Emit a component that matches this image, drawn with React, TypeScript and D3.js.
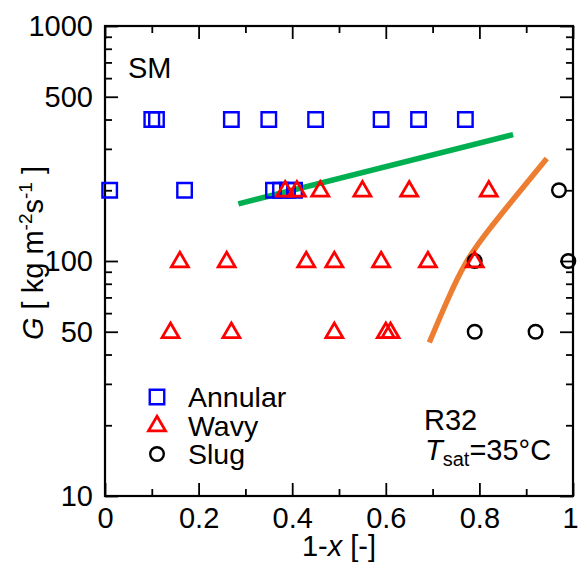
import React, { useEffect, useRef } from 'react';
import * as d3 from 'd3';

// flow regime observations, 1-x vs G
const annular400 = [0.10, 0.11, 0.27, 0.35, 0.45, 0.59, 0.67, 0.77];
const annular200 = [0.01, 0.17, 0.36, 0.375, 0.39, 0.405];
const wavy200 = [0.385, 0.41, 0.46, 0.55, 0.65, 0.82];
const wavy100 = [0.16, 0.26, 0.43, 0.49, 0.59, 0.69, 0.79];
const wavy50 = [0.14, 0.27, 0.49, 0.60, 0.61];
const slug200 = [0.97];
const slug100 = [0.79, 0.99];
const slug50 = [0.79, 0.92];

// transition lines [1-x, G]
const greenLine = [[0.285, 175], [0.872, 345]];
const orangeLine = [[0.693, 45], [0.731, 68], [0.769, 99], [0.816, 133], [0.878, 189], [0.944, 273]];

const xMajor = [0, 0.2, 0.4, 0.6, 0.8, 1];
const xMinor = [0.1, 0.3, 0.5, 0.7, 0.9];
const yMajor = [10, 50, 100, 500, 1000];
const yMinor = [20, 30, 40, 60, 70, 80, 90, 200, 300, 400, 600, 700, 800, 900];
const legendLabels = ['Annular', 'Wavy', 'Slug'];

const FONT = 'Liberation Sans, Arial, sans-serif';
const FS = 29;

const App = () => {
    const svgRef = useRef(null);

    useEffect(() => {
        const svg = d3.select(svgRef.current);
        svg.selectAll('*').remove();

        const left = 105, top = 26, right = 573, bottom = 496;
        const x = d3.scaleLinear().domain([0, 1]).range([left, right]);
        const y = d3.scaleLog().domain([10, 1000]).range([bottom, top]);

        const fmtX = (d) => (d === 0 || d === 1 ? String(d) : d.toFixed(1));

        // bottom axis, ticks inward
        svg.append('g').attr('class', 'xb').attr('transform', `translate(0,${bottom})`)
            .call(d3.axisBottom(x).tickValues(xMajor).tickSizeInner(-13).tickSizeOuter(0).tickPadding(11).tickFormat(fmtX));
        svg.append('g').attr('transform', `translate(0,${bottom})`)
            .call(d3.axisBottom(x).tickValues(xMinor).tickSizeInner(-7).tickSizeOuter(0).tickFormat(() => ''));
        // top axis
        svg.append('g').attr('transform', `translate(0,${top})`)
            .call(d3.axisTop(x).tickValues(xMajor).tickSizeInner(-13).tickSizeOuter(0).tickFormat(() => ''));
        svg.append('g').attr('transform', `translate(0,${top})`)
            .call(d3.axisTop(x).tickValues(xMinor).tickSizeInner(-7).tickSizeOuter(0).tickFormat(() => ''));
        // left axis
        svg.append('g').attr('transform', `translate(${left},0)`)
            .call(d3.axisLeft(y).tickValues(yMajor).tickSizeInner(-13).tickSizeOuter(0).tickPadding(12).tickFormat(d3.format('d')));
        svg.append('g').attr('transform', `translate(${left},0)`)
            .call(d3.axisLeft(y).tickValues(yMinor).tickSizeInner(-7).tickSizeOuter(0).tickFormat(() => ''));
        // right axis
        svg.append('g').attr('transform', `translate(${right},0)`)
            .call(d3.axisRight(y).tickValues(yMajor).tickSizeInner(-13).tickSizeOuter(0).tickFormat(() => ''));
        svg.append('g').attr('transform', `translate(${right},0)`)
            .call(d3.axisRight(y).tickValues(yMinor).tickSizeInner(-7).tickSizeOuter(0).tickFormat(() => ''));

        svg.selectAll('.domain').remove();
        svg.selectAll('.tick line').attr('stroke', '#000').attr('stroke-width', 1.8);
        svg.selectAll('.tick text').attr('font-family', FONT).attr('font-size', FS).attr('fill', '#000');
        // last x label sits against the page edge
        svg.selectAll('.xb .tick text').filter((d) => d === 1).attr('dx', -3);

        // frame
        svg.append('rect')
            .attr('x', left).attr('y', top)
            .attr('width', right - left).attr('height', bottom - top)
            .attr('fill', 'none').attr('stroke', '#000').attr('stroke-width', 2.2);

        // transition lines
        const line = d3.line().x((d) => x(d[0])).y((d) => y(d[1]));
        svg.append('path').datum(greenLine).attr('d', line)
            .attr('fill', 'none').attr('stroke', '#00b050').attr('stroke-width', 5.5);
        svg.append('path').datum(orangeLine).attr('d', line.curve(d3.curveBasis))
            .attr('fill', 'none').attr('stroke', '#ed7d31').attr('stroke-width', 5.5);

        const square = d3.symbol().type(d3.symbolSquare).size(210);
        const tri = d3.symbol().type(d3.symbolTriangle).size(125);

        const drawSquares = (vals, g) => {
            svg.append('g').selectAll('path').data(vals).enter().append('path')
                .attr('d', square)
                .attr('transform', (d) => `translate(${x(d)},${y(g)})`)
                .attr('fill', 'none').attr('stroke', '#0000ff').attr('stroke-width', 2.4);
        };
        const drawTris = (vals, g) => {
            svg.append('g').selectAll('path').data(vals).enter().append('path')
                .attr('d', tri)
                .attr('transform', (d) => `translate(${x(d)},${y(g) + 1})`)
                .attr('fill', 'none').attr('stroke', '#ff0000').attr('stroke-width', 2.8);
        };
        const drawCircles = (vals, g) => {
            svg.append('g').selectAll('circle').data(vals).enter().append('circle')
                .attr('cx', (d) => x(d)).attr('cy', y(g)).attr('r', 6.8)
                .attr('fill', 'none').attr('stroke', '#000').attr('stroke-width', 2.4);
        };

        drawCircles(slug200, 200);
        drawCircles(slug100, 100);
        drawCircles(slug50, 50);
        drawSquares(annular400, 400);
        drawSquares(annular200, 200);
        drawTris(wavy200, 200);
        drawTris(wavy100, 100);
        drawTris(wavy50, 50);

        // legend
        const lx = 157;
        svg.append('path').attr('d', square).attr('transform', `translate(${lx},397)`)
            .attr('fill', 'none').attr('stroke', '#0000ff').attr('stroke-width', 2.4);
        svg.append('path').attr('d', tri).attr('transform', `translate(${lx},426)`)
            .attr('fill', 'none').attr('stroke', '#ff0000').attr('stroke-width', 2.8);
        svg.append('circle').attr('cx', lx).attr('cy', 454).attr('r', 6.8)
            .attr('fill', 'none').attr('stroke', '#000').attr('stroke-width', 2.4);
        svg.append('g').selectAll('text').data(legendLabels).enter().append('text')
            .attr('x', 188).attr('y', (d, i) => 407 + i * 28.5)
            .attr('font-family', FONT).attr('font-size', 28.5)
            .text((d) => d);

        // annotations
        svg.append('text').attr('x', 128).attr('y', 78)
            .attr('font-family', FONT).attr('font-size', FS).text('SM');
        svg.append('text').attr('x', 424).attr('y', 430)
            .attr('font-family', FONT).attr('font-size', FS).text('R32');
        const tsat = svg.append('text').attr('x', 425).attr('y', 460)
            .attr('font-family', FONT).attr('font-size', FS);
        tsat.append('tspan').attr('font-style', 'italic').text('T');
        tsat.append('tspan').attr('font-size', 20).attr('dy', 6).text('sat');
        tsat.append('tspan').attr('dy', -6).text('=35°C');

        // x label
        const xl = svg.append('text').attr('x', 339).attr('y', 556).attr('text-anchor', 'middle')
            .attr('font-family', FONT).attr('font-size', FS);
        xl.append('tspan').text('1-');
        xl.append('tspan').attr('font-style', 'italic').text('x');
        xl.append('tspan').text(' [-]');

        // y label
        const yl = svg.append('text')
            .attr('transform', 'translate(43,253) rotate(-90)')
            .attr('text-anchor', 'middle')
            .attr('font-family', FONT).attr('font-size', FS);
        yl.append('tspan').attr('font-style', 'italic').text('G');
        yl.append('tspan').text(' [ kg m');
        yl.append('tspan').attr('font-size', 19).attr('dy', -11).text('-2');
        yl.append('tspan').attr('dy', 11).text('s');
        yl.append('tspan').attr('font-size', 19).attr('dy', -11).text('-1');
        yl.append('tspan').attr('dy', 11).text(' ]');
    }, []);

    return (
        <svg ref={svgRef} width="578" height="565"
            style={{ position: 'absolute', left: 0, top: 0, background: '#fff' }}></svg>
    );
};

export default App;
